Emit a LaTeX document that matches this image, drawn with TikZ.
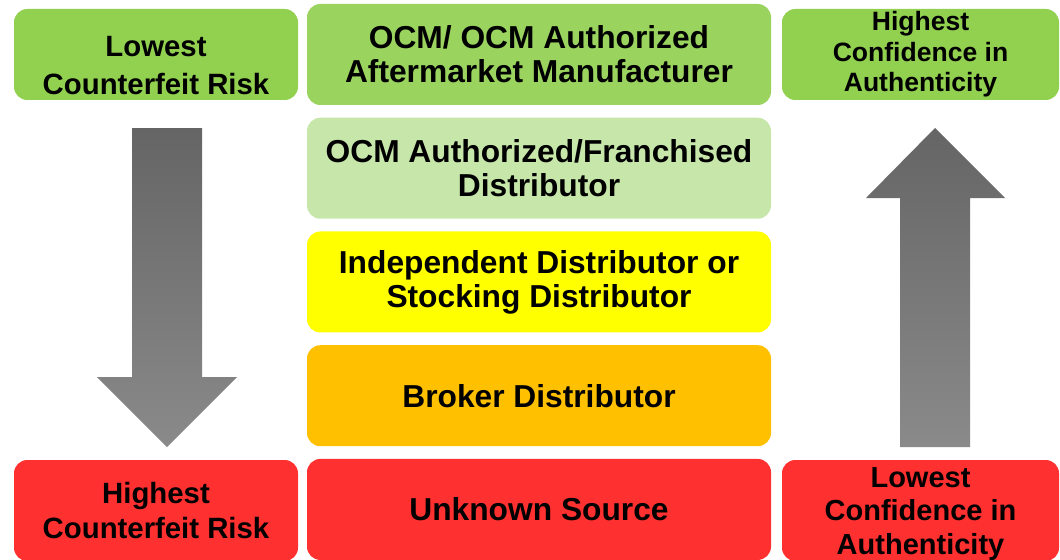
\documentclass[tikz,border=0pt]{standalone}
\usepackage{fontspec}
\setmainfont{Liberation Sans}
\usetikzlibrary{positioning}

\definecolor{riskgreen}{HTML}{92D050}
\definecolor{ocmgreen}{HTML}{9BD35F}
\definecolor{authgreen}{HTML}{C7E6AA}
\definecolor{indyellow}{HTML}{FFFF00}
\definecolor{brokerorange}{HTML}{FFC000}
\definecolor{unknownred}{HTML}{FF3030}
\definecolor{arrowtop}{HTML}{656565}
\definecolor{arrowbottom}{HTML}{8A8A8A}

\begin{document}
\begin{tikzpicture}[x=0.75pt, y=-0.75pt,
    tier/.style={fill=#1, rounded corners=10pt, inner sep=0pt, outer sep=0pt, align=center,
      minimum width=348pt, minimum height=75.75pt,
      font=\fontsize{23.8pt}{25.5pt}\bfseries\selectfont},
    side/.style={fill=#1, rounded corners=10pt, inner sep=0pt, align=center},
    bigarrow/.style={top color=arrowtop, bottom color=arrowbottom}]
  \useasboundingbox (0,0) rectangle (1060,560);

  % supplier tiers, most trusted on top
  \node[tier=ocmgreen] (ocm) at (539,54.5) {OCM/ OCM Authorized\\Aftermarket Manufacturer};
  \node[tier=authgreen, below=9.55pt of ocm] (auth) {OCM Authorized/Franchised\\Distributor};
  \node[tier=indyellow, below=9.55pt of auth] (indep) {Independent Distributor or\\Stocking Distributor};
  \node[tier=brokerorange, below=9.55pt of indep] (broker) {Broker Distributor};
  \node[tier=unknownred, below=9.55pt of broker] (unknown) {Unknown Source};

  % counterfeit risk scale
  \node[side=riskgreen, minimum width=213pt, minimum height=68.25pt,
    font=\fontsize{22pt}{28.5pt}\bfseries\selectfont] (lowrisk) at (156,54.5)
    {\rule{0pt}{32pt}Lowest\\Counterfeit Risk};
  \node[side=unknownred, minimum width=213pt, minimum height=75.75pt,
    font=\fontsize{22pt}{26.25pt}\bfseries\selectfont] (highrisk) at (156,510.5)
    {Highest\\Counterfeit Risk};

  % confidence scale
  \node[side=riskgreen, minimum width=207.75pt, minimum height=68.25pt,
    font=\fontsize{19.9pt}{22.9pt}\bfseries\selectfont] (highconf) at (920.5,54.5)
    {Highest\\Confidence in\\Authenticity};
  \node[side=unknownred, minimum width=207.75pt, minimum height=75.75pt,
    font=\fontsize{21.75pt}{25.2pt}\bfseries\selectfont] (lowconf) at (920.5,510.5)
    {\rule{0pt}{20pt}Lowest\\Confidence in\\Authenticity};

  % block arrows
  \shade[bigarrow] (132,128) -- (202,128) -- (202,377) -- (237,377) -- (167,447)
    -- (97,377) -- (132,377) -- cycle;
  \shade[bigarrow] (900,447) -- (970,447) -- (970,198) -- (1005,198) -- (935,128)
    -- (866,198) -- (900,198) -- cycle;
\end{tikzpicture}
\end{document}
